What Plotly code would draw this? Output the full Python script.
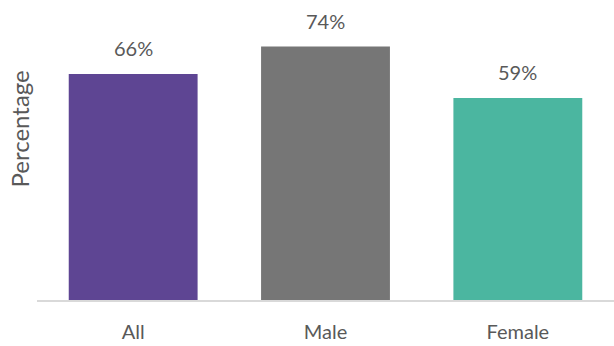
import plotly.graph_objects as go

categories = ["All", "Male", "Female"]
values = [66, 74, 59]
labels = ["66%", "74%", "59%"]
colors = ["#5E4593", "#767676", "#4BB6A0"]

FONT = "Lato"
TXT = "#595959"

fig = go.Figure(go.Bar(x=categories, y=values, marker_color=colors, marker_line_width=0,
                       hoverinfo="skip"))

for c, v, t in zip(categories, values, labels):
    fig.add_annotation(x=c, y=v, text=t, showarrow=False, yanchor="bottom", yshift=12,
                       font=dict(family=FONT, size=20, color=TXT))

fig.add_annotation(xref="paper", yref="paper", x=-0.032, y=0.57, text="Percentage",
                   textangle=-90, showarrow=False, xanchor="center", yanchor="middle",
                   font=dict(family=FONT, size=24, color=TXT))

fig.update_layout(
    width=614, height=346,
    margin=dict(l=37, r=0, t=0, b=46),
    plot_bgcolor="white", paper_bgcolor="white",
    bargap=0.33, showlegend=False,
    font=dict(family=FONT, color=TXT),
)
fig.update_xaxes(showline=True, linecolor="#D9D9D9", linewidth=2, ticks="outside",
                 ticklen=13, tickcolor="rgba(0,0,0,0)",
                 tickfont=dict(family=FONT, size=20, color=TXT), showgrid=False)
fig.update_yaxes(range=[0, 87.6], showticklabels=False, showgrid=False, zeroline=False)

fig.write_html("out.html")
